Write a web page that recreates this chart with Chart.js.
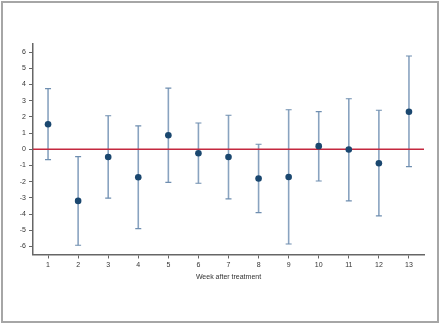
<!DOCTYPE html>
<html lang="en">
  <head>
    <meta charset="utf-8">
    <title>Effect by week after treatment</title>
    <script src="https://cdn.jsdelivr.net/npm/chart.js"></script>
    <style>
      html, body { margin: 0; padding: 0; background: #fff; }
      canvas { display: block; }
    </style>
  </head>
  <body>
    <canvas id="myChart" width="440" height="323"></canvas>
    <script>
      // values
      var weeks = [1, 2, 3, 4, 5, 6, 7, 8, 9, 10, 11, 12, 13];
      var estimate = [1.54, -3.19, -0.48, -1.73, 0.86, -0.25, -0.48, -1.81, -1.71, 0.19, -0.02, -0.86, 2.32];
      var upper = [3.74, -0.45, 2.07, 1.44, 3.78, 1.62, 2.1, 0.31, 2.44, 2.32, 3.12, 2.41, 5.76];
      var lower = [-0.64, -5.93, -3.02, -4.9, -2.04, -2.1, -3.07, -3.91, -5.85, -1.96, -3.19, -4.12, -1.07];
      var yTicks = [-6, -5, -4, -3, -2, -1, 0, 1, 2, 3, 4, 5, 6];
      var xRange = [0.5, 13.5];
      var yRange = [-6.5, 6.5];
      var refValue = 0;

      var points = weeks.map(function (w, i) { return { x: w, y: estimate[i] }; });

      // whiskers for the confidence intervals, placed via the chart scales
      var errorBars = {
        id: 'errorBars',
        beforeDatasetsDraw: function (chart) {
          var ctx = chart.ctx;
          var xs = chart.scales.x, ys = chart.scales.y;
          ctx.save();
          ctx.strokeStyle = '#89a3c0';
          ctx.lineWidth = 1.6;
          weeks.forEach(function (w, i) {
            var px = xs.getPixelForValue(w);
            var top = ys.getPixelForValue(upper[i]);
            var bot = ys.getPixelForValue(lower[i]);
            ctx.beginPath();
            ctx.moveTo(px, top);
            ctx.lineTo(px, bot);
            ctx.stroke();
          });
          ctx.strokeStyle = '#6f8eb0';
          ctx.lineWidth = 1.2;
          weeks.forEach(function (w, i) {
            var px = xs.getPixelForValue(w);
            var top = ys.getPixelForValue(upper[i]);
            var bot = ys.getPixelForValue(lower[i]);
            ctx.beginPath();
            ctx.moveTo(px - 3, top);
            ctx.lineTo(px + 3, top);
            ctx.moveTo(px - 3, bot);
            ctx.lineTo(px + 3, bot);
            ctx.stroke();
          });
          ctx.restore();
        }
      };

      // grey frame round the whole graph
      var frame = {
        id: 'frame',
        afterDraw: function (chart) {
          var ctx = chart.ctx;
          ctx.save();
          ctx.strokeStyle = '#a6a6a6';
          ctx.lineWidth = 2;
          ctx.strokeRect(2, 2, chart.width - 4, chart.height - 3);
          ctx.restore();
        }
      };

      var tickFont = { family: 'Liberation Sans, Arial, sans-serif', size: 7 };

      new Chart('myChart', {
        type: 'scatter',
        data: {
          datasets: [
            {
              label: 'Estimate',
              data: points,
              order: 0,
              pointRadius: 3.3,
              pointBackgroundColor: '#1a476f',
              pointBorderColor: '#1a476f',
              pointBorderWidth: 0
            },
            {
              type: 'line',
              label: 'zero',
              data: [{ x: xRange[0], y: refValue }, { x: xRange[1], y: refValue }],
              order: 1,
              borderColor: '#c4283f',
              borderWidth: 1.3,
              pointRadius: 0
            }
          ]
        },
        options: {
          responsive: false,
          animation: false,
          layout: { padding: { top: 44, right: 16, bottom: 41.5, left: 0 } },
          plugins: {
            legend: { display: false },
            tooltip: { enabled: false }
          },
          scales: {
            x: {
              type: 'linear',
              min: xRange[0],
              max: xRange[1],
              afterBuildTicks: function (scale) {
                scale.ticks = weeks.map(function (w) { return { value: w }; });
              },
              afterFit: function (scale) { scale.height = 27; },
              grid: { drawOnChartArea: false, drawTicks: true, tickLength: 4, color: '#666', lineWidth: 1 },
              border: { display: true, color: '#666', width: 1.5 },
              ticks: { font: tickFont, color: '#333', padding: 2, maxRotation: 0, autoSkip: false },
              title: {
                display: true,
                text: 'Week after treatment',
                font: tickFont,
                color: '#333',
                padding: { top: 0, bottom: 0 }
              }
            },
            y: {
              min: yRange[0],
              max: yRange[1],
              afterBuildTicks: function (scale) {
                scale.ticks = yTicks.map(function (v) { return { value: v }; });
              },
              afterFit: function (scale) { scale.width = 33; },
              grid: { drawOnChartArea: false, drawTicks: true, tickLength: 4, color: '#666', lineWidth: 1 },
              border: { display: true, color: '#666', width: 1.5 },
              ticks: { font: tickFont, color: '#333', padding: 3 }
            }
          }
        },
        plugins: [errorBars, frame]
      });
    </script>
  </body>
</html>
